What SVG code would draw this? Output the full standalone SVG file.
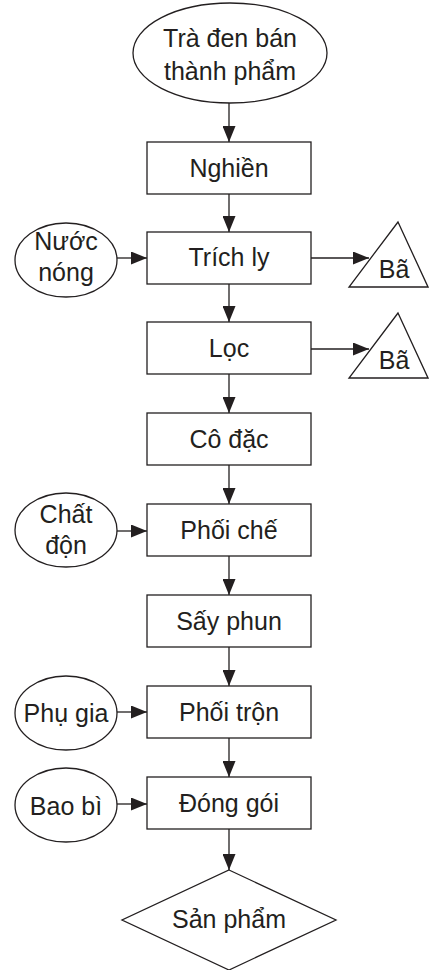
<svg xmlns="http://www.w3.org/2000/svg" width="429" height="970" viewBox="0 0 429 970">
<defs>
<style>
.s{fill:#fff;stroke:#231f20;stroke-width:1.3}
.t{font-family:"Liberation Sans",Arial,sans-serif;font-size:25px;fill:#231f20;text-anchor:middle}
.c{fill:none;stroke:#231f20;stroke-width:1.3;marker-end:url(#ah)}
</style>
<marker id="ah" markerUnits="userSpaceOnUse" markerWidth="16" markerHeight="13" refX="16" refY="6.5" orient="auto">
<path d="M0,0 L16,6.5 L0,13 z" fill="#231f20"/>
</marker>
</defs>
<rect width="429" height="970" fill="#fff"/>
<g id="connectors">
<line class="c" x1="229" y1="103" x2="229" y2="142"/>
<line class="c" x1="229" y1="194" x2="229" y2="232"/>
<line class="c" x1="229" y1="284" x2="229" y2="322"/>
<line class="c" x1="229" y1="374" x2="229" y2="413"/>
<line class="c" x1="229" y1="465" x2="229" y2="504"/>
<line class="c" x1="229" y1="556" x2="229" y2="595"/>
<line class="c" x1="229" y1="647" x2="229" y2="686"/>
<line class="c" x1="229" y1="738" x2="229" y2="777"/>
<line class="c" x1="229" y1="829" x2="229" y2="870"/>
<line class="c" x1="117" y1="258" x2="147" y2="258"/>
<line class="c" x1="311" y1="258" x2="369" y2="258"/>
<line class="c" x1="311" y1="349" x2="369" y2="349"/>
<line class="c" x1="117" y1="531" x2="147" y2="531"/>
<line class="c" x1="117" y1="712" x2="147" y2="712"/>
<line class="c" x1="117" y1="804" x2="147" y2="804"/>
</g>
<g id="start">
<ellipse class="s" cx="230" cy="53" rx="97" ry="50"/>
<text class="t" x="230" y="47">Trà đen bán</text>
<text class="t" x="230" y="80">thành phẩm</text>
</g>
<g id="nghien">
<rect class="s" x="147" y="142" width="164" height="52"/>
<text class="t" x="229" y="177">Nghiền</text>
</g>
<g id="trichly">
<rect class="s" x="147" y="232" width="164" height="52"/>
<text class="t" x="229" y="266">Trích ly</text>
</g>
<g id="nuocnong">
<ellipse class="s" cx="66" cy="260" rx="51" ry="37"/>
<text class="t" x="66" y="250">Nước</text>
<text class="t" x="66" y="281">nóng</text>
</g>
<g id="ba1">
<polygon class="s" points="398,222 349,287 428,287"/>
<text class="t" x="394" y="278">Bã</text>
</g>
<g id="loc">
<rect class="s" x="147" y="322" width="164" height="52"/>
<text class="t" x="229" y="357">Lọc</text>
</g>
<g id="ba2">
<polygon class="s" points="398,313 349,378 428,378"/>
<text class="t" x="394" y="369">Bã</text>
</g>
<g id="codac">
<rect class="s" x="147" y="413" width="164" height="52"/>
<text class="t" x="229" y="448">Cô đặc</text>
</g>
<g id="phoiche">
<rect class="s" x="147" y="504" width="164" height="52"/>
<text class="t" x="229" y="539">Phối chế</text>
</g>
<g id="chatdon">
<ellipse class="s" cx="66" cy="530" rx="51" ry="37"/>
<text class="t" x="66" y="523">Chất</text>
<text class="t" x="66" y="554">độn</text>
</g>
<g id="sayphun">
<rect class="s" x="147" y="595" width="164" height="52"/>
<text class="t" x="229" y="630">Sấy phun</text>
</g>
<g id="phoitron">
<rect class="s" x="147" y="686" width="164" height="52"/>
<text class="t" x="229" y="721">Phối trộn</text>
</g>
<g id="phugia">
<ellipse class="s" cx="66" cy="713" rx="51" ry="37"/>
<text class="t" x="66" y="722">Phụ gia</text>
</g>
<g id="donggoi">
<rect class="s" x="147" y="777" width="164" height="52"/>
<text class="t" x="229" y="812">Đóng gói</text>
</g>
<g id="baobi">
<ellipse class="s" cx="66" cy="805" rx="51" ry="37"/>
<text class="t" x="66" y="815">Bao bì</text>
</g>
<g id="sanpham">
<polygon class="s" points="229,870 336,920 229,970 122,920"/>
<text class="t" x="229" y="928">Sản phẩm</text>
</g>
</svg>
